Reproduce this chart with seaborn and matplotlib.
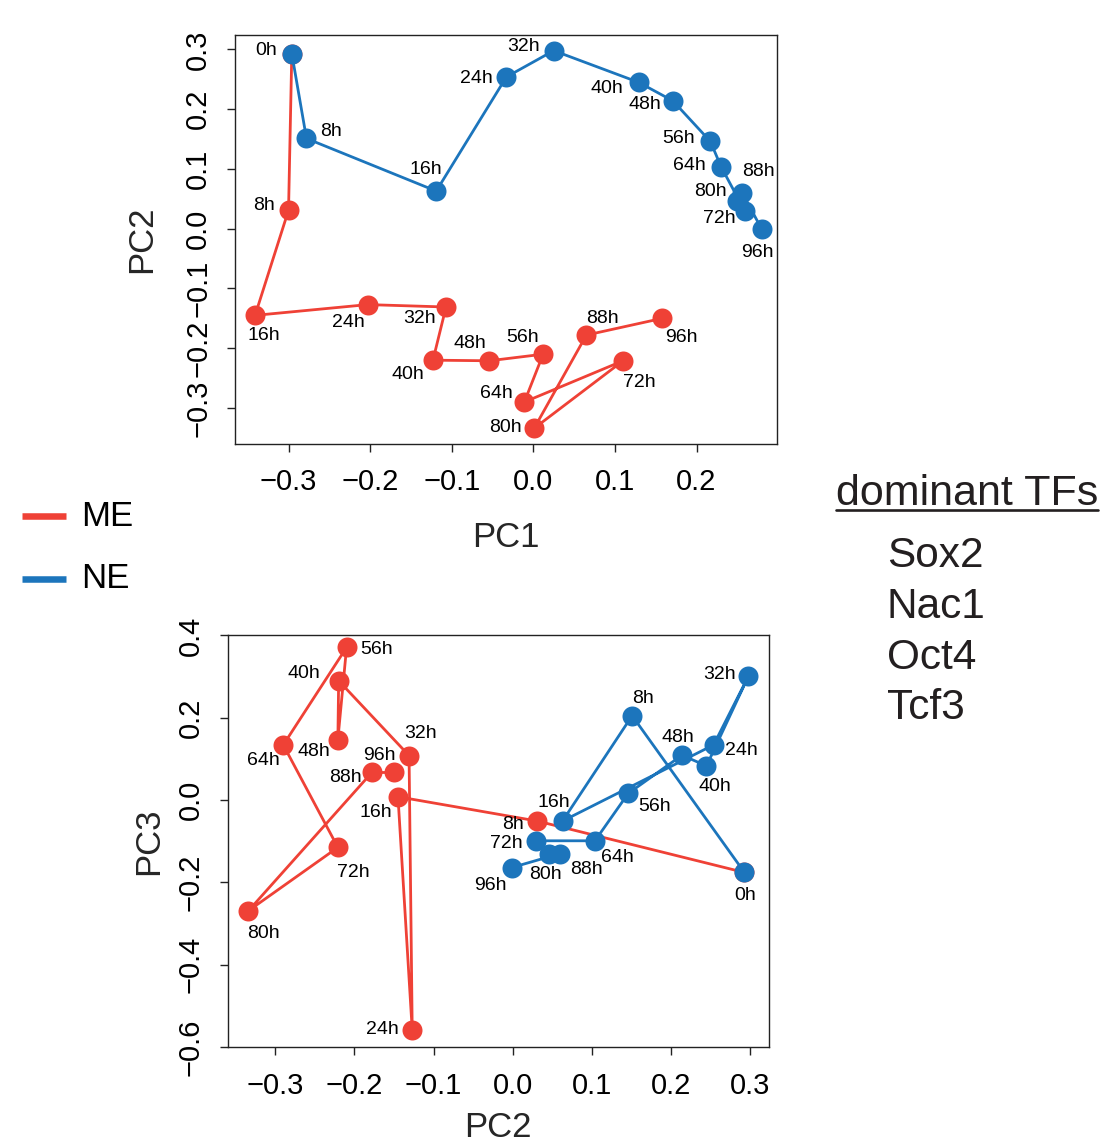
import numpy as np
import pandas as pd
import matplotlib
matplotlib.use("Agg")
import matplotlib.pyplot as plt
from matplotlib.lines import Line2D
from matplotlib.ticker import FixedLocator, FuncFormatter
import seaborn as sns

# ---- data: PCA trajectories of two differentiation time courses ----
hours = ["0h", "8h", "16h", "24h", "32h", "40h", "48h",
         "56h", "64h", "72h", "80h", "88h", "96h"]

me_pc1 = [-0.296, -0.300, -0.341, -0.203, -0.107, -0.123, -0.054,
          0.012, -0.011, 0.110, 0.001, 0.065, 0.158]
me_pc2 = [0.293, 0.031, -0.145, -0.127, -0.131, -0.220, -0.221,
          -0.210, -0.290, -0.221, -0.334, -0.178, -0.150]
me_pc3 = [-0.176, -0.051, 0.008, -0.559, 0.108, 0.290, 0.147,
          0.371, 0.134, -0.115, -0.269, 0.067, 0.067]

ne_pc1 = [-0.296, -0.278, -0.119, -0.033, 0.025, 0.129, 0.171,
          0.217, 0.230, 0.259, 0.249, 0.256, 0.280]
ne_pc2 = [0.293, 0.151, 0.063, 0.254, 0.298, 0.245, 0.214,
          0.146, 0.104, 0.030, 0.046, 0.060, -0.001]
ne_pc3 = [-0.176, 0.205, -0.051, 0.134, 0.301, 0.083, 0.109,
          0.016, -0.099, -0.099, -0.130, -0.130, -0.164]

lineages = ["ME", "NE"]
tf_names = ["Sox2", "Nac1", "Oct4", "Tcf3"]

colors = {"ME": "#EF4136", "NE": "#1C75BC"}
text_color = "#231F20"

df = pd.concat([
    pd.DataFrame({"hour": hours, "PC1": me_pc1, "PC2": me_pc2, "PC3": me_pc3, "lineage": "ME"}),
    pd.DataFrame({"hour": hours, "PC1": ne_pc1, "PC2": ne_pc2, "PC3": ne_pc3, "lineage": "NE"}),
], ignore_index=True)

# label offsets in pixels (dx right, dy down) from each point
top_offsets = {
    "ME": {"8h": (-25, -5), "16h": (9, 20), "24h": (-19, 18), "32h": (-26, 12),
           "40h": (-25, 14), "48h": (-19, -17), "56h": (-21, -17), "64h": (-28, -9),
           "72h": (16, 22), "80h": (-29, -1), "88h": (16, -17), "96h": (19, 19)},
    "NE": {"0h": (-26, -3), "8h": (25, -7), "16h": (-10, -22), "24h": (-30, 2),
           "32h": (-30, -4), "40h": (-32, 6), "48h": (-28, 4), "56h": (-32, -3),
           "64h": (-32, -1), "72h": (-25, 8), "80h": (-26, -10), "88h": (16, -21),
           "96h": (-4, 23)},
}
bottom_offsets = {
    "ME": {"8h": (-24, 3.5), "16h": (-22, 16), "24h": (-30, -1), "32h": (11, -22),
           "40h": (-35, -7), "48h": (-24, 12), "56h": (30, 2), "64h": (-20, 16),
           "72h": (15, 25), "80h": (15, 23), "88h": (-26, 5), "96h": (-15, -17)},
    "NE": {"0h": (1, 23), "8h": (11, -17), "16h": (-9, -19), "24h": (28, 6),
           "32h": (-29, -2), "40h": (8, 21), "48h": (-4, -17.5), "56h": (26, 13),
           "64h": (22, 17), "72h": (-30, 3), "80h": (-4, 21), "88h": (26, 16),
           "96h": (-22, 18)},
}

# ---- style ----
sns.set_style("ticks")
plt.rcParams["font.family"] = ["Liberation Sans", "DejaVu Sans"]
plt.rcParams["axes.unicode_minus"] = True

W, H = 1109, 1142
fig = plt.figure(figsize=(W / 100, H / 100), dpi=100)
fig.patch.set_facecolor("white")

ax1 = fig.add_axes([0.2122, 0.6112, 0.4882, 0.3579])
ax2 = fig.add_axes([0.2053, 0.0829, 0.4881, 0.3610])


def fmt(v, _pos=None):
    s = f"{v:.1f}"
    if s == "-0.0":
        s = "0.0"
    return s.replace("-", "\u2212")


def draw_panel(ax, xcol, ycol, offsets, xticks, yticks, xlim, ylim,
               xlabel, ylabel, xpad, ypad):
    for lin in lineages:
        sub = df[df["lineage"] == lin]
        sns.lineplot(data=sub, x=xcol, y=ycol, sort=False, estimator=None,
                     color=colors[lin], marker="o", markersize=14.4,
                     markeredgewidth=0, linewidth=2.0, ax=ax, legend=False)
    for lin in lineages:
        sub = df[df["lineage"] == lin]
        for _, r in sub.iterrows():
            if r["hour"] in offsets[lin]:
                dx, dy = offsets[lin][r["hour"]]
                ax.annotate(r["hour"], (r[xcol], r[ycol]),
                            xytext=(dx * 0.72, -dy * 0.72), textcoords="offset points",
                            ha="center", va="center", fontsize=14, color="black")
    ax.set_xlim(*xlim)
    ax.set_ylim(*ylim)
    ax.xaxis.set_major_locator(FixedLocator(xticks))
    ax.yaxis.set_major_locator(FixedLocator(yticks))
    ax.xaxis.set_major_formatter(FuncFormatter(fmt))
    ax.yaxis.set_major_formatter(FuncFormatter(fmt))
    ax.tick_params(axis="both", length=5.6, width=1.0, pad=12, labelsize=21,
                   colors="#222222", labelcolor="black")
    ax.tick_params(axis="y", labelrotation=90, pad=11)
    for t in ax.get_yticklabels():
        t.set_verticalalignment("center")
    for sp in ax.spines.values():
        sp.set_visible(True)
        sp.set_linewidth(1.0)
        sp.set_color("#222222")
    ax.set_xlabel(xlabel, fontsize=25, labelpad=xpad)
    ax.set_ylabel(ylabel, fontsize=25, labelpad=ypad)
    ax.grid(False)


draw_panel(ax1, "PC1", "PC2", top_offsets,
           [-0.3, -0.2, -0.1, 0.0, 0.1, 0.2],
           [-0.3, -0.2, -0.1, 0.0, 0.1, 0.2, 0.3],
           (-0.3652, 0.2983), (-0.3603, 0.3237), "PC1", "PC2", 17.5, 19)
draw_panel(ax2, "PC2", "PC3", bottom_offsets,
           [-0.3, -0.2, -0.1, 0.0, 0.1, 0.2, 0.3],
           [-0.6, -0.4, -0.2, 0.0, 0.2, 0.4],
           (-0.3603, 0.3240), (-0.601, 0.401), "PC2", "PC3", 8, 8)

# ---- legend for the two lineages ----
for lin, ypx in zip(lineages, [516, 579]):
    yf = 1 - ypx / H
    fig.add_artist(Line2D([22 / W, 66 / W], [yf, yf], transform=fig.transFigure,
                          color=colors[lin], linewidth=4.7, solid_capstyle="butt"))
    fig.text(81 / W, yf, lin, fontsize=25, va="center", ha="left", color="black")

# ---- dominant transcription factors ----
head = fig.text(836 / W, 1 - 505 / H, "dominant TFs", fontsize=31,
                va="baseline", ha="left", color=text_color)
for name, base in zip(tf_names, [567, 618, 669, 719]):
    fig.text(887 / W, 1 - base / H, name, fontsize=30.5, va="baseline",
             ha="left", color=text_color)

fig.canvas.draw()
bb = head.get_window_extent(renderer=fig.canvas.get_renderer())
uy = 1 - 509.5 / H
fig.add_artist(Line2D([bb.x0 / W, bb.x1 / W], [uy, uy], transform=fig.transFigure,
                      color=text_color, linewidth=1.9))

fig.savefig("out.png", dpi=100, facecolor="white")
